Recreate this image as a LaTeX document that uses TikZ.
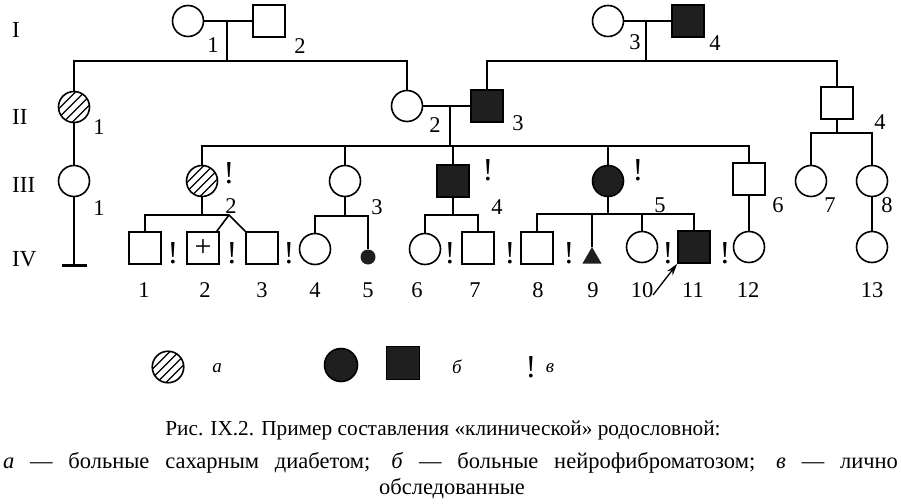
\documentclass[tikz,border=0pt]{standalone}
\usepackage{fontspec}
\setmainfont{Liberation Serif}
\usetikzlibrary{shapes.geometric,arrows.meta}
\begin{document}
\begin{tikzpicture}[x=1pt,y=-1pt,
  ln/.style={line width=1.6pt},
  fem/.style={circle,draw,line width=1.6pt,minimum size=31pt,inner sep=0pt},
  mal/.style={rectangle,draw,line width=1.6pt,minimum size=32pt,inner sep=0pt},
  aff/.style={fill=black!88},
  hatch/.style={path picture={
    \foreach \i in {-22.5,-13.5,-4.5,4.5,13.5,22.5}
      \draw[line width=1.2pt] ([xshift=\i pt]path picture bounding box.center) ++(-25pt,-25pt) -- ++(50pt,50pt);}},
  num/.style={font=\fontsize{22.5}{22.5}\selectfont,inner sep=0pt},
  gen/.style={font=\fontsize{23}{23}\selectfont,inner sep=0pt,anchor=west},
  exc/.style={font=\fontsize{32}{32}\selectfont,inner sep=0pt},
  leg/.style={font=\fontsize{19}{19}\selectfont\itshape,inner sep=0pt},
]
\useasboundingbox (0,0) rectangle (901,503);

% generation labels
\node[gen] (gI) at (12,30) {I};
\node[gen] (gII) at (12,117) {II};
\node[gen] (gIII) at (12,185) {III};
\node[gen] (gIV) at (12,259) {IV};

% generation I
\node[fem] (I1) at (188,21) {};
\node[mal] (I2) at (269,21) {};
\node[fem] (I3) at (608,21) {};
\node[mal,aff] (I4) at (688,21) {};
% generation II
\node[fem,hatch] (II1) at (74,107) {};
\node[fem] (II2) at (407,106) {};
\node[mal,aff] (II3) at (487,106) {};
\node[mal] (II4) at (837,103) {};
% generation III
\node[fem] (III1) at (74,181) {};
\node[fem,hatch] (III2) at (202,181) {};
\node[fem] (III3) at (345,181) {};
\node[mal,aff] (III4) at (453,181) {};
\node[fem,aff] (III5) at (608,181) {};
\node[mal] (III6) at (749,179) {};
\node[fem] (III7) at (811,181) {};
\node[fem] (III8) at (872,181) {};
% generation IV
\node[mal] (IV1) at (145,248) {};
\node[mal,font=\fontsize{30}{30}\selectfont] (IV2) at (203,248) {+};
\node[mal] (IV3) at (262,248) {};
\node[fem] (IV4) at (315,249) {};
\node[circle,fill=black!88,minimum size=15pt,inner sep=0pt] (IV5) at (368,257) {};
\node[fem] (IV6) at (425,249) {};
\node[mal] (IV7) at (478,248) {};
\node[mal] (IV8) at (537,248) {};
\node[regular polygon,regular polygon sides=3,fill=black!88,minimum size=22pt,inner sep=0pt] (IV9) at (592,258) {};
\node[fem] (IV10) at (642,247) {};
\node[mal,aff] (IV11) at (694,247) {};
\node[fem] (IV12) at (749,247) {};
\node[fem] (IV13) at (872,247) {};

% connector coordinates
\coordinate (m1) at (227,21);
\coordinate (s1) at (227,61);
\coordinate (m3) at (646,21);
\coordinate (s3) at (646,61);
\coordinate (m2) at (450,106);
\coordinate (s2) at (450,146);
\coordinate (s4) at (837,133);
\coordinate (e1) at (74,265);
\coordinate (s5) at (202,215);
\coordinate (tw) at (229,215);
\coordinate (s6) at (345,216);
\coordinate (s7) at (453,215);
\coordinate (s8) at (608,214);
\coordinate (ar) at (653,295);

\begin{scope}[ln]
\draw (I1) -- (I2);
\draw (m1) -- (s1);
\draw (II1.north) |- (s1) -| (II2.north);
\draw (I3) -- (I4);
\draw (m3) -- (s3);
\draw (II3.north) |- (s3) -| (II4.north);
\draw (II2) -- (II3);
\draw (m2) -- (s2);
\draw (III2.north) |- (s2) -| (III6.north);
\draw (III3.north) -- (III3.north |- s2);
\draw (III4.north) -- (III4.north |- s2);
\draw (III5.north) -- (III5.north |- s2);
\draw (II4.south) -- (s4);
\draw (III7.north) |- (s4) -| (III8.north);
\draw (II1) -- (III1);
\draw (III1) -- (e1);
\draw (III2) -- (s5);
\draw (IV1.north) |- (s5) -- (tw);
\draw ([xshift=-3pt]IV2.north east) -- (tw) -- (IV3.north west);
\draw (III3) -- (s6);
\draw (IV4.north) |- (s6) -| (IV5.north);
\draw (III4) -- (s7);
\draw (IV6.north) |- (s7) -| (IV7.north);
\draw (III5) -- (s8);
\draw (IV8.north) |- (s8) -| (IV11.north);
\draw (IV9.north) -- (IV9.north |- s8);
\draw (IV10.north) -- (IV10.north |- s8);
\draw (III6) -- (IV12);
\draw (III8) -- (IV13);
\end{scope}
\draw[line width=3pt] ([xshift=-12.5pt]e1) -- ([xshift=12.5pt]e1);
\draw[line width=1.3pt,-{Stealth[length=12pt,width=7pt]}] (ar) -- (IV11.south west);

% individual numbers
\node[num] (nI1) at (213,45) {1};
\node[num] (nI2) at (300,46) {2};
\node[num] (nI3) at (635,42) {3};
\node[num] (nI4) at (715,43) {4};
\node[num] (nII1) at (99,127) {1};
\node[num] (nII2) at (435,125) {2};
\node[num] (nII3) at (518,123) {3};
\node[num] (nII4) at (880,122) {4};
\node[num] (nIII1) at (99,208) {1};
\node[num] (nIII2) at (231,206) {2};
\node[num] (nIII3) at (377,207) {3};
\node[num] (nIII4) at (497,207) {4};
\node[num] (nIII5) at (660,205) {5};
\node[num] (nIII6) at (778,205) {6};
\node[num] (nIII7) at (830,205) {7};
\node[num] (nIII8) at (887,205) {8};
\foreach \n/\x in {1/144,2/205,3/262,4/315,5/368,6/417,7/475,8/538,9/593,10/642,11/693,12/748,13/872}
  \node[num] (nIV\n) at (\x,290) {\n};

% examined marks
\node[exc] (x1) at (229,173) {!};
\node[exc] (x2) at (488,170) {!};
\node[exc] (x3) at (638,170) {!};
\foreach \k/\x in {4/173,5/232,6/289,7/450,8/510,9/569,10/668,11/725}
  \node[exc] (x\k) at (\x,253) {!};

% legend
\node[fem,hatch,minimum size=31.5pt] (La) at (168,367) {};
\node[leg] (ta) at (217,368) {а};
\node[fem,aff,minimum size=33pt] (Lb1) at (341,365) {};
\node[mal,aff,minimum size=33pt] (Lb2) at (403,363) {};
\node[leg] (tb) at (457,367) {б};
\node[exc] (Lv) at (531,367) {!};
\node[leg] (tv) at (550,368) {в};

% caption
\node[font=\fontsize{21.3}{22}\selectfont,anchor=base,inner sep=0pt] (c1) at (443,435) {Рис. IX.2. Пример составления «клинической» родословной:};
\node[font=\fontsize{22.5}{23}\selectfont,anchor=base,inner sep=0pt] (c2) at (450.5,468) {\makebox[895pt][s]{\textit{а} — больные сахарным диабетом; \textit{б} — больные нейрофиброматозом; \textit{в} — лично}};
\node[font=\fontsize{22.5}{23}\selectfont,anchor=base,inner sep=0pt] (c3) at (452,494) {обследованные};
\end{tikzpicture}
\end{document}
